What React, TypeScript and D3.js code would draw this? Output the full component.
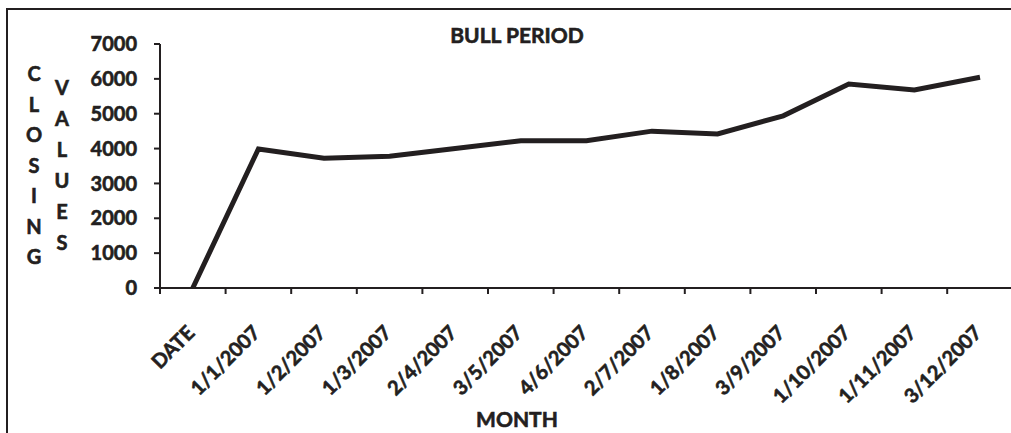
import React from "react";
import * as d3 from "d3";

const categories = [
  "DATE", "1/1/2007", "1/2/2007", "1/3/2007", "2/4/2007", "3/5/2007", "4/6/2007",
  "2/7/2007", "1/8/2007", "3/9/2007", "1/10/2007", "1/11/2007", "3/12/2007",
];
const closingValues = [0, 3990, 3720, 3780, 4000, 4225, 4225, 4500, 4420, 4940, 5850, 5680, 6045];
const yTicks = [0, 1000, 2000, 3000, 4000, 5000, 6000, 7000];
const yTitleLeft = "CLOSING".split("");
const yTitleRight = "VALUES".split("");

const width = 1011;
const height = 433;
const ink = "#231f20";
const font = "Lato, 'Open Sans', sans-serif";

export default function App() {
  const x = d3.scaleBand<string>()
    .domain(categories)
    .range([160, 160 + 13 * 65.6])
    .paddingInner(0)
    .paddingOuter(0);

  const y = d3.scaleLinear()
    .domain([0, 7000])
    .range([288, 44]);

  const line = d3.line<number>()
    .x((_, i) => (x(categories[i]) as number) + x.bandwidth() / 2)
    .y(d => y(d));

  const tickXs = categories.map(c => x(c) as number).concat([x.range()[1]]);

  // text gets a thin outline so Lato bold reads as heavy as the original
  const textStyle = { stroke: ink, strokeWidth: 0.6 };

  return (
    <svg width={width} height={height}
      style={{ position: "absolute", left: 0, top: 0, background: "#fff" }}
      fontFamily={font} fontWeight="bold" fill={ink}>
      {/* chart frame, runs past the right and bottom edges */}
      <rect x={7} y={9} width={1100} height={500} fill="none" stroke={ink} strokeWidth={2} />

      <text x={517} y={43} textAnchor="middle" fontSize={21} style={textStyle}>BULL PERIOD</text>

      {/* y axis */}
      <line x1={160} x2={160} y1={y(7000)} y2={y(0)} stroke={ink} strokeWidth={2} />
      {yTicks.map(t => (
        <g key={t}>
          <line x1={154} x2={160} y1={y(t)} y2={y(t)} stroke={ink} strokeWidth={2} />
          <text x={137} y={y(t)} dy="0.36em" textAnchor="end" fontSize={20} style={textStyle}>{t}</text>
        </g>
      ))}

      {/* stacked axis title */}
      {yTitleLeft.map((ch, i) => (
        <text key={"l" + i} x={34} y={81 + i * 30.5} textAnchor="middle" fontSize={20} style={textStyle}>{ch}</text>
      ))}
      {yTitleRight.map((ch, i) => (
        <text key={"r" + i} x={62} y={95 + i * 31} textAnchor="middle" fontSize={20} style={textStyle}>{ch}</text>
      ))}

      {/* x axis */}
      <line x1={160} x2={x.range()[1]} y1={y(0)} y2={y(0)} stroke={ink} strokeWidth={2} />
      {tickXs.map((tx, i) => (
        <line key={i} x1={tx} x2={tx} y1={y(0)} y2={y(0) + 6} stroke={ink} strokeWidth={2} />
      ))}
      {categories.map(c => {
        const cx = (x(c) as number) + x.bandwidth() / 2 + 3;
        const cy = 334;
        return (
          <text key={c} x={cx} y={cy} textAnchor="end" fontSize={20} style={textStyle}
            transform={`rotate(-45, ${cx}, ${cy})`}>{c}</text>
        );
      })}
      <text x={517} y={427} textAnchor="middle" fontSize={21} style={textStyle}>MONTH</text>

      <path d={line(closingValues) || ""} fill="none" stroke={ink} strokeWidth={5} strokeLinejoin="miter" />
    </svg>
  );
}
